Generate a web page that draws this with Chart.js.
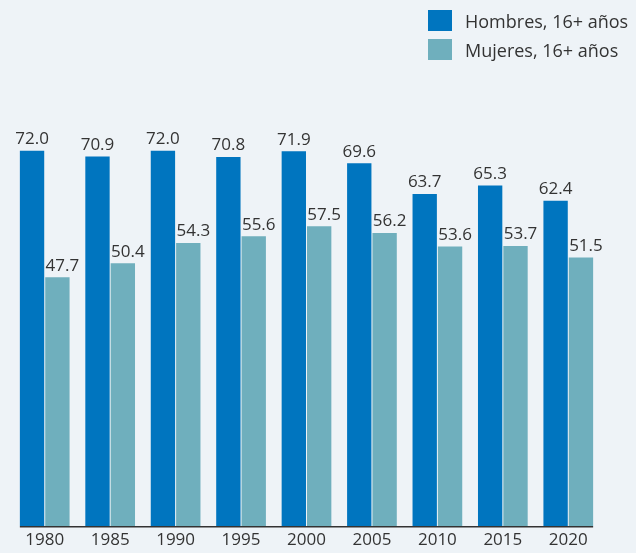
<!DOCTYPE html>
<html><head><meta charset="utf-8">
<script src="https://cdn.jsdelivr.net/npm/chart.js@4"></script>
<style>
html,body{margin:0;padding:0;background:#eef3f7;}
#wrap{position:relative;width:636px;height:553px;}
#legend{position:absolute;left:428px;top:6px;font-family:"Open Sans",sans-serif;font-size:18px;color:#333;}
.li{display:flex;align-items:center;height:29px;}
.sw{width:24px;height:21px;margin-right:13px;flex:none;}
canvas{position:absolute;left:0;top:0;}
</style></head><body>
<div id="wrap">
<canvas id="c" width="636" height="553"></canvas>
<div id="legend"></div>
</div>
<script>
const categories = ["1980","1985","1990","1995","2000","2005","2010","2015","2020"];
const hombres = [72.0,70.9,72.0,70.8,71.9,69.6,63.7,65.3,62.4];
const mujeres = [47.7,50.4,54.3,55.6,57.5,56.2,53.6,53.7,51.5];
const seriesNames = ["Hombres, 16+ años","Mujeres, 16+ años"];
const colors = ["#0075bf","#6fafbd"];

const lg = document.getElementById('legend');
seriesNames.forEach((n,i)=>{
  const d=document.createElement('div');d.className='li';
  d.innerHTML='<span class="sw" style="background:'+colors[i]+'"></span><span>'+n+'</span>';
  lg.appendChild(d);
});

const labelPlugin = {
  id:'lbl',
  afterDatasetsDraw(chart){
    const ctx=chart.ctx;
    ctx.save();
    ctx.font='17px "Open Sans", sans-serif';
    ctx.fillStyle='#333';
    ctx.textAlign='center';
    ctx.textBaseline='bottom';
    chart.data.datasets.forEach((ds,di)=>{
      const dx = di===1 ? 5 : 0;
      chart.getDatasetMeta(di).data.forEach((b,i)=>{
        ctx.fillText(ds.data[i].toFixed(1), b.x+dx, b.y-3);
      });
    });
    const m0=chart.getDatasetMeta(0).data, m1=chart.getDatasetMeta(1).data;
    const x0=m0[0].x-m0[0].width/2, x1=m1[m1.length-1].x+m1[m1.length-1].width/2;
    const y=chart.scales.y.getPixelForValue(0);
    ctx.strokeStyle='#333';ctx.lineWidth=1.5;
    ctx.beginPath();ctx.moveTo(x0,y+0.75);ctx.lineTo(x1,y+0.75);ctx.stroke();
    ctx.restore();
  }
};

new Chart(document.getElementById('c'),{
  type:'bar',
  data:{labels:categories,datasets:[
    {label:seriesNames[0],data:hombres,backgroundColor:colors[0],barPercentage:0.96,categoryPercentage:0.775},
    {label:seriesNames[1],data:mujeres,backgroundColor:colors[1],barPercentage:0.96,categoryPercentage:0.775}
  ]},
  options:{
    responsive:false,animation:false,
    layout:{padding:{left:12,right:35,top:109,bottom:0}},
    plugins:{legend:{display:false},tooltip:{enabled:false}},
    scales:{
      x:{grid:{display:false,drawTicks:false},border:{display:false},
         afterFit(s){s.height=27;},
         ticks:{color:'#333',font:{family:'"Open Sans", sans-serif',size:17,lineHeight:1},padding:6,maxRotation:0}},
      y:{display:false,min:0,max:80}
    }
  },
  plugins:[labelPlugin]
});
</script>
</body></html>
